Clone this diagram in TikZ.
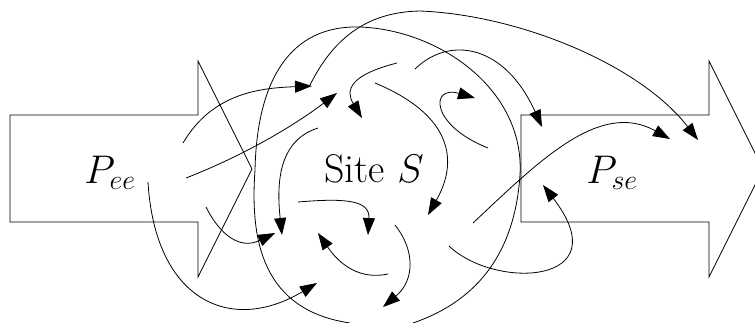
\RequirePackage{fix-cm}
\documentclass[tikz,border=0pt]{standalone}
\usepackage{amsmath}
\usepackage{tikz}
\usetikzlibrary{arrows.meta}

\begin{document}
\begin{tikzpicture}[x=1pt,y=-1pt,line width=0.8pt,
    flow/.style={-{Triangle[length=17pt,width=12pt]}},
    big/.style={font=\fontsize{40}{48}\selectfont}]
    \useasboundingbox (0,0) rectangle (755,322);
    \draw (10,115) -- (198,115) -- (198,61) -- (252,169) -- (198,277) -- (198,222) -- (10,222) -- cycle;
    \draw (521,115) -- (709,115) -- (709,61) -- (763,169) -- (709,277) -- (709,222) -- (521,222) -- cycle;
    \node[big,anchor=base] (pee) at (110,183) {$P_{ee}$};
    \node[big,anchor=base] (site) at (374,182) {Site $S$};
    \node[big,anchor=base] (pse) at (612,183) {$P_{se}$};
    %
    \draw[flow] (183,143) .. controls (213,92) and (262,88) .. (312,86);
    \draw[flow] (186,178) .. controls (245,155) and (295,125) .. (337,93);
    \draw[flow] (148,182) .. controls (155,300) and (230,335) .. (317,283);
    \draw[flow] (206,207) .. controls (220,235) and (240,250) .. (275,233);
    \draw[flow] (318,128) .. controls (280,140) and (276,180) .. (282,235);
    \draw[flow] (298,202) .. controls (345,198) and (370,200) .. (368,235);
    \draw[flow] (388,274) .. controls (360,280) and (340,265) .. (318,233);
    \draw[flow] (395,225) .. controls (415,250) and (415,280) .. (383,307);
    \draw[flow] (397,63) .. controls (350,75) and (345,90) .. (362,118);
    \draw[flow] (375,83) .. controls (445,112) and (462,155) .. (428,215);
    \draw[flow] (415,69) .. controls (450,35) and (505,45) .. (542,127);
    \draw[flow] (488,148) .. controls (430,125) and (430,85) .. (475,98);
    \draw[flow] (473,223) .. controls (540,160) and (600,100) .. (670,139);
    \draw[flow] (449,246) .. controls (495,290) and (620,285) .. (543,185);
    \draw[flow] (310,85) .. controls (335,35) and (370,12) .. (420,11) .. controls (520,15) and (640,65) .. (698,140);
    %
    \draw (350,323) .. controls (262,310) and (250,240) .. (255,170) .. controls (257,80) and (290,25) .. (360,27) .. controls (440,30) and (525,90) .. (520,175) .. controls (515,250) and (480,300) .. (413,323);
\end{tikzpicture}
\end{document}
